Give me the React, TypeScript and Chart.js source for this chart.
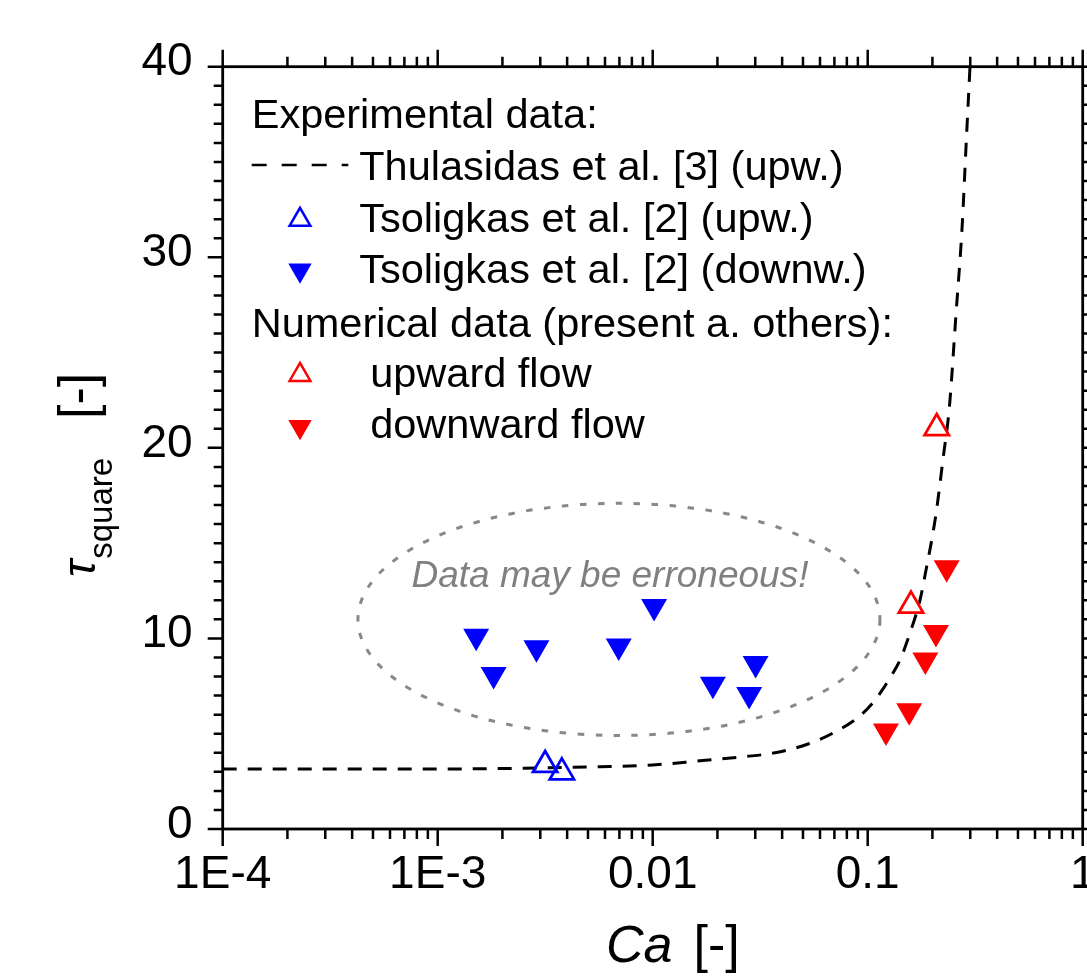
import React, { useEffect, useRef } from "react";
import { Chart, registerables } from "chart.js";

Chart.register(...registerables);

const FONT = '"Liberation Sans", Arial, sans-serif';

// Thulasidas et al. [3] (upward) – dashed curve
const thulasidasCa = [1e-4, 1e-3, 0.00569, 0.01, 0.0166, 0.0269, 0.0371, 0.0528, 0.068, 0.0904, 0.1045, 0.1183, 0.1294, 0.1414, 0.159, 0.175, 0.188, 0.1985, 0.208, 0.217, 0.2247, 0.2356, 0.2414, 0.2574, 0.2746, 0.2866, 0.2991];
const thulasidasTau = [3.15, 3.15, 3.27, 3.36, 3.58, 3.8, 4.0, 4.46, 5.0, 5.86, 6.56, 7.38, 8.08, 8.87, 10.44, 12.0, 13.76, 15.16, 16.56, 18.14, 19.53, 21.29, 22.5, 27.0, 31.5, 35.8, 40];

// Tsoligkas et al. [2] upward (hollow blue)
const tsolUpCa = [0.00316, 0.00378];
const tsolUpTau = [3.36, 2.97];

// Tsoligkas et al. [2] downward (filled blue)
const tsolDownCa = [0.00151, 0.00182, 0.00288, 0.00695, 0.01015, 0.01905, 0.0301, 0.0281];
const tsolDownTau = [10.12, 8.11, 9.51, 9.6, 11.67, 7.59, 8.68, 7.06];

// Numerical: upward flow (hollow red)
const numUpCa = [0.2094, 0.159];
const numUpTau = [21.04, 11.72];

// Numerical: downward flow (filled red)
const numDownCa = [0.233, 0.2077, 0.1854, 0.156, 0.1216];
const numDownTau = [13.71, 10.31, 8.87, 6.2, 5.14];

const xTickValues = [1e-4, 1e-3, 0.01, 0.1, 1];
const xTickLabels = ["1E-4", "1E-3", "0.01", "0.1", "1"];
const yMin = 0;
const yMax = 40;
const yStep = 10;

const legendHeaders = ["Experimental data:", "Numerical data (present a. others):"];
const legendLabels = [
  "Thulasidas et al. [3] (upw.)",
  "Tsoligkas et al. [2] (upw.)",
  "Tsoligkas et al. [2] (downw.)",
  "upward flow",
  "downward flow",
];

// "Data may be erroneous!" ellipse (log10 Ca centre, tau centre, half extents)
const ellipseLogCa = -2.157;
const ellipseTau = 11.0;
const ellipseHalfDecades = 1.214;
const ellipseHalfTau = 6.09;
const noteText = "Data may be erroneous!";

const BLUE = "#0000ff";
const RED = "#ff0000";

const zip = (xs: number[], ys: number[]) => xs.map((x, i) => ({ x, y: ys[i] }));

function triangle(ctx: CanvasRenderingContext2D, x: number, y: number, r: number, down: boolean, color: string, filled: boolean, lw: number) {
  ctx.beginPath();
  for (let i = 0; i < 3; i++) {
    const a = (down ? Math.PI : 0) + (i * 2 * Math.PI) / 3;
    const px = x + Math.sin(a) * r;
    const py = y - Math.cos(a) * r;
    if (i === 0) ctx.moveTo(px, py);
    else ctx.lineTo(px, py);
  }
  ctx.closePath();
  if (filled) {
    ctx.fillStyle = color;
    ctx.fill();
  } else {
    ctx.strokeStyle = color;
    ctx.lineWidth = lw;
    ctx.stroke();
  }
}

const decorPlugin = {
  id: "decor",
  beforeDatasetsDraw(chart: any) {
    const { ctx } = chart;
    const xs = chart.scales.x;
    const ys = chart.scales.y;
    const cx = xs.getPixelForValue(Math.pow(10, ellipseLogCa));
    const cy = ys.getPixelForValue(ellipseTau);
    const rx = xs.getPixelForValue(Math.pow(10, ellipseLogCa + ellipseHalfDecades)) - cx;
    const ry = ys.getPixelForValue(ellipseTau - ellipseHalfTau) - cy;
    ctx.save();
    ctx.strokeStyle = "#888888";
    ctx.lineWidth = 3;
    ctx.setLineDash([6.5, 11.5]);
    ctx.beginPath();
    ctx.ellipse(cx, cy, rx, ry, 0, 0, Math.PI * 2);
    ctx.stroke();
    ctx.setLineDash([]);
    ctx.fillStyle = "#808080";
    ctx.font = `italic 37px ${FONT}`;
    ctx.textAlign = "center";
    ctx.textBaseline = "alphabetic";
    ctx.fillText(noteText, cx - 9, cy - 32);
    ctx.restore();
  },
  afterDraw(chart: any) {
    const { ctx, chartArea: ca } = chart;
    const xs = chart.scales.x;
    const ys = chart.scales.y;
    ctx.save();
    ctx.strokeStyle = "#000";
    ctx.lineCap = "butt";
    // ticks
    ctx.lineWidth = 2.5;
    ctx.beginPath();
    for (let v = yMin; v <= yMax; v += 1) {
      const py = ys.getPixelForValue(v);
      const len = v % yStep === 0 ? 15 : 9;
      ctx.moveTo(ca.left - len, py);
      ctx.lineTo(ca.left, py);
      ctx.moveTo(ca.right, py);
      ctx.lineTo(ca.right + len, py);
    }
    for (let d = -4; d <= 0; d++) {
      for (let k = 1; k <= 9; k++) {
        const v = k * Math.pow(10, d);
        if (v > 1.0000001) break;
        const px = xs.getPixelForValue(v);
        const len = k === 1 ? 17 : 10;
        ctx.moveTo(px, ca.bottom);
        ctx.lineTo(px, ca.bottom + len);
        ctx.moveTo(px, ca.top);
        ctx.lineTo(px, ca.top - len);
      }
    }
    ctx.stroke();
    // frame
    ctx.lineWidth = 2.8;
    ctx.strokeRect(ca.left, ca.top, ca.right - ca.left, ca.bottom - ca.top);

    // legend
    const L = ca.left;
    const T = ca.top;
    ctx.fillStyle = "#000";
    ctx.font = `41.5px ${FONT}`;
    ctx.textAlign = "left";
    ctx.textBaseline = "alphabetic";
    ctx.fillText(legendHeaders[0], L + 29, T + 61.6);
    ctx.fillText(legendLabels[0], L + 136.5, T + 113.3);
    ctx.fillText(legendLabels[1], L + 136.5, T + 165);
    ctx.fillText(legendLabels[2], L + 136.5, T + 216.6);
    ctx.fillText(legendHeaders[1], L + 29, T + 270);
    ctx.fillText(legendLabels[3], L + 147.5, T + 320);
    ctx.fillText(legendLabels[4], L + 147.5, T + 371.6);
    ctx.lineWidth = 2.5;
    ctx.setLineDash([15, 15]);
    ctx.beginPath();
    ctx.moveTo(L + 29, T + 98.3);
    ctx.lineTo(L + 125.6, T + 98.3);
    ctx.stroke();
    ctx.setLineDash([]);
    triangle(ctx, L + 77.3, T + 153.1, 12, false, BLUE, false, 2.5);
    triangle(ctx, L + 77.3, T + 203.5, 13.5, true, BLUE, true, 0);
    triangle(ctx, L + 77.3, T + 308.2, 12, false, RED, false, 2.5);
    triangle(ctx, L + 77.3, T + 360, 13.5, true, RED, true, 0);

    // x axis title
    ctx.fillStyle = "#000";
    ctx.textAlign = "left";
    ctx.font = `italic 52px ${FONT}`;
    const xt = 606;
    ctx.fillText("Ca", xt, 962);
    const w = ctx.measureText("Ca").width;
    ctx.font = `52px ${FONT}`;
    ctx.fillText("[-]", xt + w + 21, 962);

    // y axis title (rotated)
    ctx.translate(95, 577);
    ctx.rotate(-Math.PI / 2);
    ctx.font = `italic 46px ${FONT}`;
    ctx.fillText("\u03c4", 0, 0);
    const tw = ctx.measureText("\u03c4").width;
    ctx.font = `33px ${FONT}`;
    ctx.fillText("square", tw + 1, 17);
    ctx.font = `52px ${FONT}`;
    ctx.fillText("[-]", 158, 0);
    ctx.restore();
  },
};

export default function App() {
  const ref = useRef<HTMLCanvasElement | null>(null);

  useEffect(() => {
    if (!ref.current) return;
    const chart = new Chart(ref.current, {
      type: "scatter",
      data: {
        datasets: [
          {
            label: legendLabels[3],
            data: zip(numUpCa, numUpTau),
            pointStyle: "triangle",
            pointRadius: 14,
            backgroundColor: "rgba(0,0,0,0)",
            borderColor: RED,
            borderWidth: 2.8,
          },
          {
            label: legendLabels[4],
            data: zip(numDownCa, numDownTau),
            pointStyle: "triangle",
            rotation: 180,
            pointRadius: 15,
            backgroundColor: RED,
            borderColor: RED,
            borderWidth: 0,
          },
          {
            label: legendLabels[1],
            data: zip(tsolUpCa, tsolUpTau),
            pointStyle: "triangle",
            pointRadius: 14,
            backgroundColor: "rgba(0,0,0,0)",
            borderColor: BLUE,
            borderWidth: 2.8,
          },
          {
            label: legendLabels[2],
            data: zip(tsolDownCa, tsolDownTau),
            pointStyle: "triangle",
            rotation: 180,
            pointRadius: 15,
            backgroundColor: BLUE,
            borderColor: BLUE,
            borderWidth: 0,
          },
          {
            label: legendLabels[0],
            data: zip(thulasidasCa, thulasidasTau),
            showLine: true,
            borderColor: "#000",
            borderWidth: 3,
            borderDash: [14, 11],
            pointRadius: 0,
            cubicInterpolationMode: "monotone",
            fill: false,
          } as any,
        ],
      },
      options: {
        responsive: false,
        animation: false,
        devicePixelRatio: 1,
        events: [],
        layout: { padding: { left: 0, top: 66.7, right: 47.3, bottom: 0 } },
        plugins: { legend: { display: false }, tooltip: { enabled: false } },
        scales: {
          x: {
            type: "logarithmic",
            min: 1e-4,
            max: 1,
            afterFit: (s: any) => {
              s.height = 150;
            },
            afterBuildTicks: (s: any) => {
              s.ticks = xTickValues.map((v) => ({ value: v }));
            },
            grid: { display: false, drawTicks: false },
            border: { display: false },
            title: { display: false },
            ticks: {
              autoSkip: false,
              maxRotation: 0,
              padding: 19,
              color: "#000",
              font: { family: FONT, size: 46 },
              callback: (_v: any, i: number) => xTickLabels[i],
            },
          },
          y: {
            type: "linear",
            min: yMin,
            max: yMax,
            afterFit: (s: any) => {
              s.width = 222.7;
            },
            grid: { display: false, drawTicks: false },
            border: { display: false },
            title: { display: false },
            ticks: {
              stepSize: yStep,
              padding: 30,
              labelOffset: -4,
              color: "#000",
              font: { family: FONT, size: 46 },
            },
          },
        },
      } as any,
      plugins: [decorPlugin],
    });
    return () => chart.destroy();
  }, []);

  return (
    <div
      style={{
        position: "fixed",
        left: 0,
        top: 0,
        width: 1087,
        height: 979,
        overflow: "hidden",
        background: "#fff",
      }}
    >
      <canvas ref={ref} width={1130} height={979} style={{ display: "block", width: 1130, height: 979 }} />
    </div>
  );
}
